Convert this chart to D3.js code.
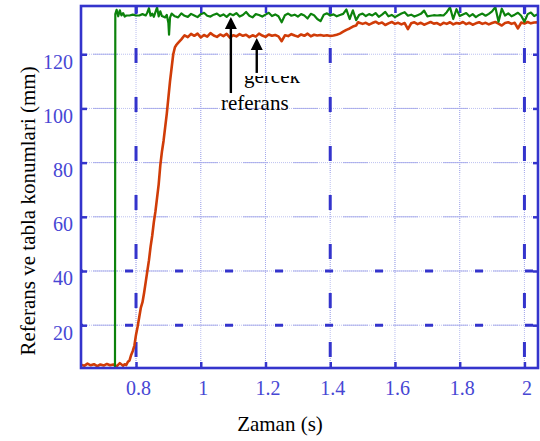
<!DOCTYPE html>
<html>
<head>
<meta charset="utf-8">
<script src="https://cdn.jsdelivr.net/npm/d3@7"></script>
<style>
  html, body { margin: 0; padding: 0; background: #fff; }
  svg { display: block; }
  text { font-family: "Liberation Serif", "Times New Roman", serif; }
</style>
</head>
<body>
<svg id="chart" width="540" height="441"></svg>
<script>
// Axis ticks and labels
const xTicks = [0.8, 1.0, 1.2, 1.4, 1.6, 1.8, 2.0];
const xTickLabels = ["0.8", "1", "1.2", "1.4", "1.6", "1.8", "2"];
const yTicks = [20, 40, 60, 80, 100, 120];
const yTickLabels = ["20", "40", "60", "80", "100", "120"];
const xDomain = [0.63, 2.045];
const yDomain = [4.2, 137.8];

// Emphasised (heavy dashed) grid lines
const heavyGridX = [0.8, 1.4, 2.0];
const heavyGridY = [20, 40];

// Reference position (green): step at t = 0.735 s
const refTime = [0.735, 0.736, 0.740, 0.745, 0.750, 0.755, 0.760, 0.765, 0.770, 0.780, 0.790, 0.800, 0.810, 0.820, 0.830, 0.835, 0.840, 0.845, 0.850, 0.855, 0.860, 0.865, 0.870, 0.875, 0.880, 0.890, 0.895, 0.900, 0.902, 0.905, 0.910,
  0.920, 0.930, 0.940, 0.950, 0.960, 0.970, 0.980, 0.990, 1.000, 1.010, 1.020, 1.030, 1.040, 1.050, 1.060, 1.070, 1.080, 1.090, 1.100, 1.110, 1.120, 1.130, 1.140, 1.150, 1.160, 1.170, 1.180, 1.190,
  1.200, 1.210, 1.220, 1.230, 1.240, 1.250, 1.260, 1.270, 1.280, 1.290, 1.300, 1.310, 1.320, 1.330, 1.340, 1.350, 1.360, 1.370, 1.380, 1.390, 1.400, 1.410, 1.420, 1.430, 1.440, 1.450, 1.460, 1.470, 1.480, 1.490,
  1.500, 1.510, 1.520, 1.530, 1.540, 1.550, 1.560, 1.570, 1.580, 1.590, 1.600, 1.610, 1.620, 1.630, 1.640, 1.650, 1.660, 1.670, 1.680, 1.690, 1.700, 1.710, 1.720, 1.730, 1.740, 1.750, 1.760, 1.770, 1.780, 1.790,
  1.800, 1.810, 1.820, 1.830, 1.840, 1.850, 1.860, 1.870, 1.880, 1.890, 1.900, 1.910, 1.920, 1.930, 1.940, 1.950, 1.960, 1.970, 1.980, 1.990, 2.000, 2.010, 2.020, 2.030, 2.040, 2.045];
const refPos = [4.2, 134.8, 136.4, 134.0, 136.2, 134.3, 135.2, 133.9, 134.3, 134.3, 134.6, 134.3, 134.3, 134.8, 134.3, 135.4, 137.0, 134.2, 135.0, 133.8, 135.5, 137.3, 134.0, 135.8, 134.1, 133.6, 134.5, 131.5, 127.2, 133.5, 135.0,
  134.0, 133.6, 135.1, 134.2, 133.8, 134.9, 134.3, 133.7, 134.8, 135.3, 134.2, 133.9, 134.6, 135.0, 134.1, 134.7, 133.8, 134.9, 134.4, 135.2, 133.9, 134.5, 135.6, 134.2, 133.6, 134.8, 134.5, 133.9,
  134.6, 135.3, 134.1, 134.7, 134.0, 131.8, 134.4, 135.0, 134.2, 134.6, 133.9, 134.8, 134.3, 133.2, 134.9, 134.4, 133.0, 132.2, 134.6, 135.1, 134.3, 134.7, 134.0, 134.5, 134.9, 136.5, 133.0, 136.2, 132.6, 134.6,
  135.0, 134.1, 134.8, 134.3, 135.2, 133.8, 134.6, 135.6, 134.0, 134.5, 133.7, 134.4, 135.0, 135.5, 134.2, 134.6, 133.9, 134.4, 134.9, 136.1, 134.0, 134.2, 134.4, 134.3, 134.4, 134.3, 135.5, 137.3, 133.0, 136.6,
  134.1, 134.7, 135.2, 134.0, 134.8, 133.7, 134.5, 135.0, 134.2, 134.9, 135.8, 137.4, 132.0, 136.8, 134.3, 135.1, 134.0, 134.6, 135.3, 134.2, 132.0, 134.8, 135.4, 134.1, 134.7, 134.4];

// Measured table position (red)
const actTime = [0.630, 0.640, 0.650, 0.660, 0.670, 0.680, 0.690, 0.700, 0.710, 0.720, 0.730, 0.740, 0.750, 0.760, 0.765, 0.770, 0.775, 0.780, 0.785, 0.790, 0.795,
  0.800, 0.805, 0.810, 0.815, 0.820, 0.825, 0.830, 0.835, 0.840, 0.845, 0.850, 0.855, 0.860, 0.865, 0.870, 0.875, 0.880, 0.885, 0.890, 0.895, 0.900, 0.905, 0.910, 0.915, 0.920, 0.925, 0.930, 0.940, 0.950,
  0.960, 0.970, 0.980, 0.990, 1.000, 1.010, 1.020, 1.030, 1.040, 1.050, 1.060, 1.070, 1.080, 1.090, 1.100, 1.110, 1.120, 1.130, 1.140, 1.150, 1.160, 1.170, 1.180, 1.190,
  1.200, 1.210, 1.220, 1.230, 1.240, 1.250, 1.260, 1.270, 1.280, 1.290, 1.300, 1.310, 1.320, 1.330, 1.340, 1.350, 1.360, 1.370, 1.380, 1.390, 1.400, 1.410, 1.420, 1.430, 1.440, 1.450, 1.460, 1.470, 1.480, 1.486, 1.490,
  1.500, 1.510, 1.520, 1.530, 1.540, 1.550, 1.560, 1.570, 1.580, 1.590, 1.600, 1.610, 1.620, 1.630, 1.640, 1.650, 1.660, 1.670, 1.680, 1.690, 1.700, 1.710, 1.720, 1.730, 1.740, 1.750, 1.760, 1.770, 1.780, 1.790,
  1.800, 1.810, 1.820, 1.830, 1.840, 1.850, 1.860, 1.870, 1.880, 1.890, 1.900, 1.910, 1.920, 1.930, 1.940, 1.950, 1.960, 1.970, 1.980, 1.990, 2.000, 2.010, 2.020, 2.030, 2.040, 2.045];
const actPos = [5.4, 5.0, 5.8, 5.2, 5.6, 4.9, 5.5, 5.1, 5.7, 5.2, 5.5, 4.8, 6.0, 5.0, 5.6, 5.3, 6.5, 7.0, 9.0, 10.5, 12.5,
  16.5, 19.5, 23.0, 26.5, 28.5, 32.0, 36.0, 40.0, 44.0, 49.0, 53.0, 58.0, 62.0, 67.0, 72.0, 79.0, 84.0, 88.0, 93.0, 98.0, 104.0, 110.0, 115.0, 120.0, 122.5, 123.5, 124.2, 125.5, 127.0,
  126.3, 127.5, 126.8, 127.6, 126.2, 127.1, 126.5, 127.8, 126.9, 126.4, 127.3, 126.7, 127.5, 126.1, 127.0, 126.6, 127.4, 126.8, 127.2, 126.3, 127.0, 126.5, 127.6, 126.9,
  126.4, 127.3, 126.8, 127.1, 126.6, 124.8, 127.0, 126.7, 127.4, 126.9, 126.5, 127.3, 126.8, 127.6, 126.6, 127.2, 126.9, 127.1, 126.8, 127.0, 126.7, 126.9, 127.2, 127.6, 128.3, 129.0, 129.5, 130.2, 130.6, 131.8, 131.6,
  131.2, 131.6, 130.9, 131.5, 132.0, 131.3, 131.7, 130.8, 131.4, 131.9, 131.2, 131.6, 131.0, 131.5, 129.3, 131.4, 131.8, 131.1, 131.6, 130.9, 131.4, 131.9, 131.3, 131.5, 130.8, 131.6, 131.2, 131.8, 131.0, 131.5,
  131.3, 131.9, 131.1, 131.6, 130.9, 131.4, 131.8, 131.2, 131.6, 131.0, 131.5, 131.9, 131.3, 130.6, 131.5, 131.8, 131.2, 131.6, 129.5, 131.7, 131.3, 131.9, 131.4, 131.7, 131.8, 131.6];

// Annotation arrows: [time, tail value, tip value]
const arrowRef = [1.093, 105.7, 133.7];
const arrowAct = [1.173, 113.1, 126.0];
const labelRef = { text: "referans", t: 1.0625, v: 99.4 };
const labelAct = { text: "gercek", t: 1.1336, v: 109.4 };

const axisColor = "#3434cc";
const labelColor = "#4747d4";
const gridLight = "#bcc0f0";
const gridMid = "#9fa3ea";

const svg = d3.select("#chart");
svg.append("rect").attr("width", 540).attr("height", 441).attr("fill", "#fff");

const plot = { left: 81, right: 539, top: 6, bottom: 368 };
const x = d3.scaleLinear().domain(xDomain).range([plot.left, plot.right]);
const y = d3.scaleLinear().domain(yDomain).range([plot.bottom, plot.top]);
const H = plot.bottom - plot.top;
const W = plot.right - plot.left;

svg.append("defs").append("clipPath").attr("id", "plotClip")
  .append("rect").attr("x", plot.left).attr("y", plot.top).attr("width", W).attr("height", H);

// Light dotted grid
const grid = svg.append("g");
grid.selectAll("line.gx").data(xTicks).join("line")
  .attr("x1", d => x(d)).attr("x2", d => x(d))
  .attr("y1", plot.top).attr("y2", plot.bottom)
  .attr("stroke", gridLight).attr("stroke-width", 1).attr("stroke-dasharray", "1,1");
grid.selectAll("line.gx2").data(xTicks).join("line")
  .attr("x1", d => x(d)).attr("x2", d => x(d))
  .attr("y1", plot.top).attr("y2", plot.bottom)
  .attr("stroke", gridMid).attr("stroke-width", 1).attr("stroke-dasharray", "1,1,1,1,1,1,1,1,1,1,1,1,1,1,1,1,1,1,1,1,1,29")
  .attr("stroke-dashoffset", 4).attr("opacity", 0.8);
grid.selectAll("line.gy").data(yTicks).join("line")
  .attr("x1", plot.left).attr("x2", plot.right)
  .attr("y1", d => y(d)).attr("y2", d => y(d))
  .attr("stroke", gridLight).attr("stroke-width", 1).attr("stroke-dasharray", "1,1");
grid.selectAll("line.gy2").data(yTicks).join("line")
  .attr("x1", plot.left).attr("x2", plot.right)
  .attr("y1", d => y(d)).attr("y2", d => y(d))
  .attr("stroke", gridMid).attr("stroke-width", 1).attr("stroke-dasharray", "25,25")
  .attr("stroke-dashoffset", -12).attr("opacity", 0.8);

// Heavy dashed emphasis lines
grid.selectAll("line.hx").data(heavyGridX).join("line")
  .attr("x1", d => x(d)).attr("x2", d => x(d))
  .attr("y1", plot.top).attr("y2", plot.bottom)
  .attr("stroke", axisColor).attr("stroke-width", 3)
  .attr("stroke-dasharray", "15,34").attr("stroke-dashoffset", 7);
grid.selectAll("line.hy").data(heavyGridY).join("line")
  .attr("x1", plot.left).attr("x2", plot.right)
  .attr("y1", d => y(d)).attr("y2", d => y(d))
  .attr("stroke", axisColor).attr("stroke-width", 3)
  .attr("stroke-dasharray", "8,42").attr("stroke-dashoffset", 6);

// Data lines
const lines = svg.append("g").attr("clip-path", "url(#plotClip)");
const line = d3.line().x(d => x(d[0])).y(d => y(d[1]));
lines.append("path")
  .datum(actTime.map((t, i) => [t, actPos[i]]))
  .attr("d", line).attr("fill", "none")
  .attr("stroke", "#d03c08").attr("stroke-width", 2.6).attr("stroke-linejoin", "round");
lines.append("path")
  .datum(refTime.map((t, i) => [t, refPos[i]]))
  .attr("d", line).attr("fill", "none")
  .attr("stroke", "#0c820c").attr("stroke-width", 2.2).attr("stroke-linejoin", "round");

// Axes with inward ticks
function styleAxis(g) {
  g.select(".domain").remove();
  g.selectAll(".tick line").attr("stroke", axisColor).attr("stroke-width", 2.5);
  g.selectAll(".tick text").attr("fill", labelColor)
    .style("font-family", '"Liberation Serif", "Times New Roman", serif')
    .style("font-size", "20px");
}
svg.append("g").attr("transform", `translate(0,${plot.bottom})`)
  .call(d3.axisBottom(x).tickValues(xTicks).tickFormat((d, i) => xTickLabels[i]).tickSize(-6).tickPadding(13))
  .call(styleAxis)
  .call(g => g.selectAll(".tick text").attr("dx", 2).attr("dy", "0.71em"));
svg.append("g").attr("transform", `translate(0,${plot.top})`)
  .call(d3.axisTop(x).tickValues(xTicks).tickFormat("").tickSize(-7))
  .call(styleAxis);
svg.append("g").attr("transform", `translate(${plot.left},0)`)
  .call(d3.axisLeft(y).tickValues(yTicks).tickFormat((d, i) => yTickLabels[i]).tickSize(-6).tickPadding(8))
  .call(styleAxis)
  .call(g => g.selectAll(".tick text").attr("dy", "0.7em").attr("y", 0));
svg.append("g").attr("transform", `translate(${plot.right},0)`)
  .call(d3.axisRight(y).tickValues(yTicks).tickFormat("").tickSize(-6))
  .call(styleAxis);

// Frame
svg.append("rect")
  .attr("x", plot.left).attr("y", plot.top).attr("width", W - 1).attr("height", H)
  .attr("fill", "none").attr("stroke", axisColor).attr("stroke-width", 2.6);

// Axis titles
svg.append("text")
  .attr("x", 280).attr("y", 431).attr("text-anchor", "middle")
  .attr("fill", "#000").style("font-size", "21px").text("Zaman (s)");
svg.append("text")
  .attr("transform", `translate(35,${(plot.top + plot.bottom) / 2 + 24}) rotate(-90)`)
  .attr("text-anchor", "middle").attr("fill", "#000").style("font-size", "21px")
  .text("Referans ve tabla konumlari (mm)");

// Annotation arrows
function arrow(a) {
  const ax = x(a[0]), y0 = y(a[1]), y1 = y(a[2]);
  svg.append("line").attr("x1", ax).attr("x2", ax).attr("y1", y0).attr("y2", y1 + 8)
    .attr("stroke", "#000").attr("stroke-width", 2.4);
  svg.append("path")
    .attr("d", `M${ax},${y1} L${ax - 6},${y1 + 12} L${ax + 6},${y1 + 12} Z`)
    .attr("fill", "#000");
}
arrow(arrowRef);
arrow(arrowAct);

svg.append("text").attr("x", x(labelRef.t)).attr("y", y(labelRef.v))
  .attr("fill", "#000").style("font-size", "21px").text(labelRef.text);

svg.select("defs").append("clipPath").attr("id", "labelClip")
  .append("rect").attr("x", 0).attr("y", 76).attr("width", 540).attr("height", 30);
svg.append("text").attr("x", x(labelAct.t)).attr("y", y(labelAct.v))
  .attr("clip-path", "url(#labelClip)")
  .attr("fill", "#000").style("font-size", "21px").text(labelAct.text);
</script>
</body>
</html>
